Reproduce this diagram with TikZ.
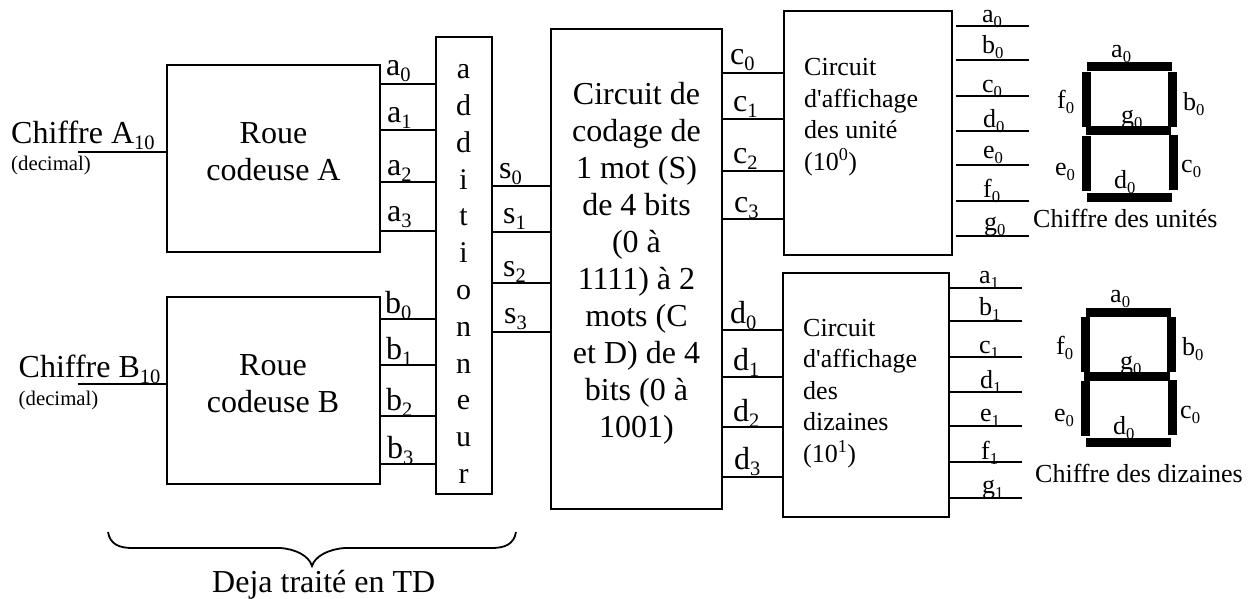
\documentclass[tikz,border=0pt]{standalone}
\usepackage{fontspec}
\setmainfont{Liberation Serif}
\usepackage{tikz}
\usetikzlibrary{positioning,calc}
\newcommand{\bitsub}[1]{\raisebox{-0.2em}{\scalebox{0.64}{#1}}}

\begin{document}
\begin{tikzpicture}[
    x=1pt, y=-1pt,
    box/.style={draw, rectangle, line width=2pt, inner sep=0pt, align=center, font=\fontsize{32}{37}\selectfont},
    wire/.style={line width=1.8pt},
    seg/.style={fill=black},
    big/.style={font=\fontsize{32}{37}\selectfont, anchor=base west, inner sep=0pt},
    lab/.style={font=\fontsize{26}{30}\selectfont, anchor=base west, inner sep=0pt},
    note/.style={font=\fontsize{20.8}{24}\selectfont, anchor=base west, inner sep=0pt},
    blocktxt/.style={font=\fontsize{26}{31.5}\selectfont, align=left, inner sep=0pt}
]
    \useasboundingbox (0,0) rectangle (1254,598);

    \node[box, minimum width=213pt, minimum height=187pt, text depth=13pt] (roueA) at (273.5,158.5) {Roue\\codeuse A};
    \node[box, minimum width=213pt, minimum height=187pt, text depth=13pt] (roueB) at (273,390.5) {Roue\\codeuse B};
    \node[box, minimum width=56pt, minimum height=457pt] (adder) at (464,265.5) {};
    \node[font=\fontsize{30}{36.8}\selectfont, align=center, inner sep=0pt] (addtxt) at (463.5,274) {a\\d\\d\\i\\t\\i\\o\\n\\n\\e\\u\\r};
    \node[box, minimum width=171pt, minimum height=480pt, text depth=18pt] (codage) at (636.5,269) {Circuit de\\codage de\\1 mot (S)\\de 4 bits\\(0 à\\1111) à 2\\mots (C\\et D) de 4\\bits (0 à\\1001)};
    \node[box, minimum width=168pt, minimum height=244pt] (unit) at (868,133) {};
    \node[box, minimum width=166pt, minimum height=244pt] (diz) at (866,395) {};
    \node[blocktxt, anchor=base west] (unittxt) at (804,170) {Circuit\\d\textquotesingle affichage\\des unité\\(10\textsuperscript{0})};
    \node[blocktxt, anchor=base west] (diztxt) at (803,462) {Circuit\\d\textquotesingle affichage\\des\\dizaines\\(10\textsuperscript{1})};

    \coordinate (inA) at (78,152);
    \coordinate (inB) at (78,384);
    \node[big] (chA) at (11,143) {Chiffre A\bitsub{10}};
    \node[note] (decA) at (11,170) {(decimal)};
    \node[big] (chB) at (18.5,377) {Chiffre B\bitsub{10}};
    \node[note] (decB) at (18.5,405) {(decimal)};
    \draw[wire] (inA) -- (roueA.west |- inA);
    \draw[wire] (inB) -- (roueB.west |- inB);

    \draw[wire] (roueA.east |- 0,84) -- (adder.west |- 0,84);
    \draw[wire] (roueA.east |- 0,130) -- (adder.west |- 0,130);
    \draw[wire] (roueA.east |- 0,182) -- (adder.west |- 0,182);
    \draw[wire] (roueA.east |- 0,231) -- (adder.west |- 0,231);
    \draw[wire] (roueB.east |- 0,319) -- (adder.west |- 0,319);
    \draw[wire] (roueB.east |- 0,365) -- (adder.west |- 0,365);
    \draw[wire] (roueB.east |- 0,416) -- (adder.west |- 0,416);
    \draw[wire] (roueB.east |- 0,464) -- (adder.west |- 0,464);
    \node[big] (la0) at (386,75) {a\bitsub{0}};
    \node[big] (la1) at (387,122) {a\bitsub{1}};
    \node[big] (la2) at (387,175) {a\bitsub{2}};
    \node[big] (la3) at (387,221) {a\bitsub{3}};
    \node[big] (lb0) at (385,313) {b\bitsub{0}};
    \node[big] (lb1) at (386,359) {b\bitsub{1}};
    \node[big] (lb2) at (386,410) {b\bitsub{2}};
    \node[big] (lb3) at (387,458) {b\bitsub{3}};

    \draw[wire] (adder.east |- 0,186) -- (codage.west |- 0,186);
    \draw[wire] (adder.east |- 0,232) -- (codage.west |- 0,232);
    \draw[wire] (adder.east |- 0,283) -- (codage.west |- 0,283);
    \draw[wire] (adder.east |- 0,332) -- (codage.west |- 0,332);
    \node[big] (ls0) at (499,178) {s\bitsub{0}};
    \node[big] (ls1) at (503,223) {s\bitsub{1}};
    \node[big] (ls2) at (503,276) {s\bitsub{2}};
    \node[big] (ls3) at (504,323) {s\bitsub{3}};

    \draw[wire] (codage.east |- 0,73) -- (unit.west |- 0,73);
    \draw[wire] (codage.east |- 0,119) -- (unit.west |- 0,119);
    \draw[wire] (codage.east |- 0,171) -- (unit.west |- 0,171);
    \draw[wire] (codage.east |- 0,219) -- (unit.west |- 0,219);
    \draw[wire] (codage.east |- 0,330) -- (diz.west |- 0,330);
    \draw[wire] (codage.east |- 0,377) -- (diz.west |- 0,377);
    \draw[wire] (codage.east |- 0,427) -- (diz.west |- 0,427);
    \draw[wire] (codage.east |- 0,477) -- (diz.west |- 0,477);
    \node[big] (lc0) at (730,64) {c\bitsub{0}};
    \node[big] (lc1) at (733,111) {c\bitsub{1}};
    \node[big] (lc2) at (733,163) {c\bitsub{2}};
    \node[big] (lc3) at (734,212) {c\bitsub{3}};
    \node[big] (ld0) at (730,323) {d\bitsub{0}};
    \node[big] (ld1) at (733,370) {d\bitsub{1}};
    \node[big] (ld2) at (733,421) {d\bitsub{2}};
    \node[big] (ld3) at (734,469) {d\bitsub{3}};

    \coordinate (ustart) at (956,0);
    \coordinate (uend) at (1029,0);
    \coordinate (dend) at (1022,0);
    \draw[wire] (ustart |- 0,26) -- (uend |- 0,26);
    \draw[wire] (ustart |- 0,60) -- (uend |- 0,60);
    \draw[wire] (ustart |- 0,96) -- (uend |- 0,96);
    \draw[wire] (ustart |- 0,131) -- (uend |- 0,131);
    \draw[wire] (ustart |- 0,165) -- (uend |- 0,165);
    \draw[wire] (ustart |- 0,201) -- (uend |- 0,201);
    \draw[wire] (ustart |- 0,236) -- (uend |- 0,236);
    \draw[wire] (diz.east |- 0,288) -- (dend |- 0,288);
    \draw[wire] (diz.east |- 0,321) -- (dend |- 0,321);
    \draw[wire] (diz.east |- 0,357) -- (dend |- 0,357);
    \draw[wire] (diz.east |- 0,392) -- (dend |- 0,392);
    \draw[wire] (diz.east |- 0,426) -- (dend |- 0,426);
    \draw[wire] (diz.east |- 0,462) -- (dend |- 0,462);
    \draw[wire] (diz.east |- 0,498) -- (dend |- 0,498);
    \node[lab] (ua0) at (982,22) {a\bitsub{0}};
    \node[lab] (ub0) at (982,53) {b\bitsub{0}};
    \node[lab] (uc0) at (982,92) {c\bitsub{0}};
    \node[lab] (ud0) at (983,127) {d\bitsub{0}};
    \node[lab] (ue0) at (983,158) {e\bitsub{0}};
    \node[lab] (uf0) at (983,197) {f\bitsub{0}};
    \node[lab] (ug0) at (984,230) {g\bitsub{0}};
    \node[lab] (da1) at (979,283) {a\bitsub{1}};
    \node[lab] (db1) at (979,315) {b\bitsub{1}};
    \node[lab] (dc1) at (979,353) {c\bitsub{1}};
    \node[lab] (dd1) at (980,388) {d\bitsub{1}};
    \node[lab] (de1) at (980,421) {e\bitsub{1}};
    \node[lab] (df1) at (981,459) {f\bitsub{1}};
    \node[lab] (dg1) at (982,493) {g\bitsub{1}};

    \node[lab] (sa0) at (1111,57) {a\bitsub{0}};
    \node[lab] (sf0) at (1057,108) {f\bitsub{0}};
    \node[lab] (sb0) at (1183,110) {b\bitsub{0}};
    \node[lab] (sg0) at (1121,123) {g\bitsub{0}};
    \node[lab] (se0) at (1055,175) {e\bitsub{0}};
    \node[lab] (sc0) at (1181,172) {c\bitsub{0}};
    \node[lab] (sd0) at (1114,188) {d\bitsub{0}};
    \node[lab] (unites) at (1033,227) {Chiffre des unités};
    \fill[seg] (1087,62) rectangle (1172,71);
    \fill[seg] (1082,72) rectangle (1091,127);
    \fill[seg] (1168,72) rectangle (1177,127);
    \fill[seg] (1086,126) rectangle (1171,135);
    \fill[seg] (1082,136) rectangle (1091,191);
    \fill[seg] (1169,135) rectangle (1178,190);
    \fill[seg] (1087,193) rectangle (1172,202);

    \node[lab] (ta0) at (1110,302) {a\bitsub{0}};
    \node[lab] (tf0) at (1056,354) {f\bitsub{0}};
    \node[lab] (tb0) at (1182,355) {b\bitsub{0}};
    \node[lab] (tg0) at (1120,369) {g\bitsub{0}};
    \node[lab] (te0) at (1054,421) {e\bitsub{0}};
    \node[lab] (tc0) at (1180,418) {c\bitsub{0}};
    \node[lab] (td0) at (1113,434) {d\bitsub{0}};
    \node[lab] (dizaines) at (1035,482) {Chiffre des dizaines};
    \fill[seg] (1086,308) rectangle (1171,317);
    \fill[seg] (1081,317) rectangle (1090,372);
    \fill[seg] (1167,317) rectangle (1176,372);
    \fill[seg] (1084,372) rectangle (1170,381);
    \fill[seg] (1081,381) rectangle (1090,436);
    \fill[seg] (1168,380) rectangle (1177,435);
    \fill[seg] (1086,438) rectangle (1171,447);

    \draw[wire] (108,532) .. controls (110,544) and (119,548) .. (132,548) -- (280,548) .. controls (296,549) and (309,556) .. (312,566) .. controls (315,556) and (329,549) .. (345,548) -- (492,548) .. controls (505,548) and (514,544) .. (516,532);
    \node[big] (traite) at (212,592) {Deja traité en TD};
\end{tikzpicture}
\end{document}
